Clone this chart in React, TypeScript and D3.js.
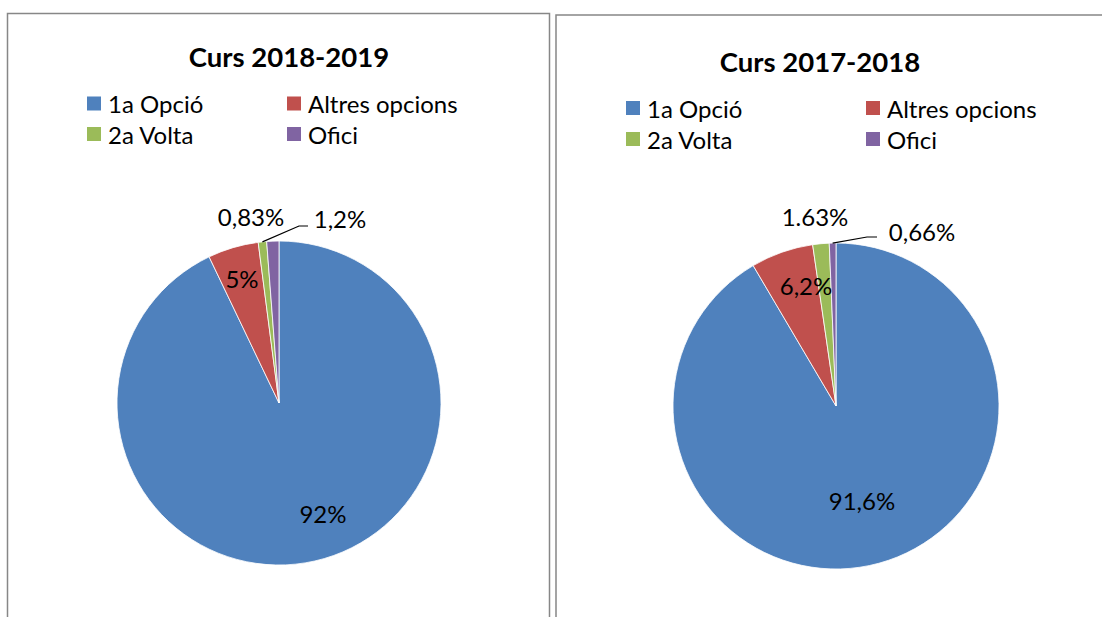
import React from "react";
import * as d3 from "d3";

const categories = ["1a Opció", "Altres opcions", "2a Volta", "Ofici"];
const colors = ["#4F81BD", "#C0504D", "#9BBB59", "#8064A2"];

const values2019 = [92, 5, 0.83, 1.2];
const labels2019 = ["92%", "5%", "0,83%", "1,2%"];
const values2018 = [91.6, 6.2, 1.63, 0.66];
const labels2018 = ["91,6%", "6,2%", "1.63%", "0,66%"];

const FONT = "Lato, 'Open Sans', sans-serif";

type PanelProps = {
  title: string;
  values: number[];
  labels: string[];
  cx: number;
  cy: number;
  r: number;
  titleX: number;
  titleY: number;
  legendX: number[];
  legendY: number[];
  labelPos: [number, number][];
  leader: { from: number; to: [number, number]; end: [number, number] };
};

function Panel(p: PanelProps) {
  const pie = d3.pie<number>().sort(null).value((d) => d)(p.values);
  const arc = d3.arc<d3.PieArcDatum<number>>().innerRadius(0).outerRadius(p.r);
  const src = pie[p.leader.from];
  const mid = (src.startAngle + src.endAngle) / 2;
  const sx = p.cx + p.r * Math.sin(mid);
  const sy = p.cy - p.r * Math.cos(mid);
  return (
    <g>
      <text x={p.titleX} y={p.titleY} textAnchor="middle" fontFamily={FONT} fontWeight="bold" fontSize={27.5} fill="#000">
        {p.title}
      </text>
      {categories.map((c, i) => (
        <g key={c}>
          <rect x={p.legendX[i % 2]} y={p.legendY[Math.floor(i / 2)] - 7} width={14} height={14} fill={colors[i]} />
          <text x={p.legendX[i % 2] + 21} y={p.legendY[Math.floor(i / 2)]} dominantBaseline="central" fontFamily={FONT} fontSize={24} fill="#000">
            {c}
          </text>
        </g>
      ))}
      <g transform={`translate(${p.cx},${p.cy})`}>
        {pie.map((d, i) => (
          <path key={i} d={arc(d) || ""} fill={colors[i]} stroke="#fff" strokeWidth={0.8} />
        ))}
      </g>
      <polyline
        points={`${sx},${sy} ${p.leader.to[0]},${p.leader.to[1]} ${p.leader.end[0]},${p.leader.end[1]}`}
        fill="none"
        stroke="#000"
        strokeWidth={1.2}
      />
      {p.labels.map((l, i) => (
        <text key={l} x={p.labelPos[i][0]} y={p.labelPos[i][1]} textAnchor="middle" dominantBaseline="central" fontFamily={FONT} fontSize={24} fill="#000">
          {l}
        </text>
      ))}
    </g>
  );
}

export default function App() {
  return (
    <svg width={1102} height={617} style={{ position: "absolute", left: 0, top: 0, background: "#fff" }}>
      <rect x={7.5} y={13.5} width={542} height={620} fill="#fff" stroke="#878787" strokeWidth={1.5} />
      <rect x={556} y={15} width={560} height={620} fill="#fff" stroke="#878787" strokeWidth={1.5} />
      <Panel
        title="Curs 2018-2019"
        values={values2019}
        labels={labels2019}
        cx={279}
        cy={403}
        r={162}
        titleX={289}
        titleY={67}
        legendX={[87, 287]}
        legendY={[103.5, 134]}
        labelPos={[[323, 513], [242, 278], [251, 216], [340, 218]]}
        leader={{ from: 2, to: [299, 226], end: [308, 226] }}
      />
      <Panel
        title="Curs 2017-2018"
        values={values2018}
        labels={labels2018}
        cx={836}
        cy={406}
        r={163}
        titleX={820}
        titleY={72}
        legendX={[626, 866]}
        legendY={[108, 139]}
        labelPos={[[862, 500], [806, 285], [815, 216], [922, 231]]}
        leader={{ from: 3, to: [867, 237], end: [877, 237] }}
      />
    </svg>
  );
}
